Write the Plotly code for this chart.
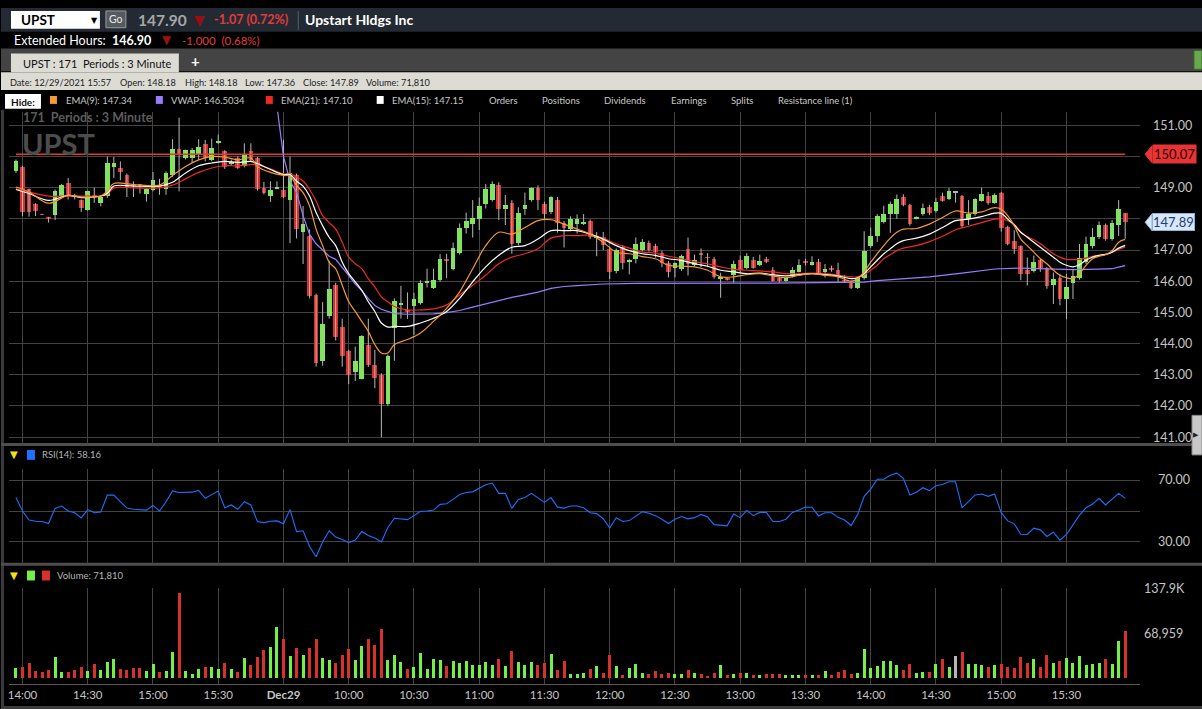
import plotly.graph_objects as go

# ---------------- data ----------------
# 3-minute candles, 12/28 13:57 .. 12/29 15:57 (171 periods)
OPEN = [149.55, 149.68, 148.95, 148.48, 148.14, 148.04, 148.13, 148.75, 149.17, 148.74,
        148.60, 148.28, 148.74, 148.51, 148.73, 149.68, 149.65, 149.40, 149.12, 149.08,
        148.81, 148.94, 149.10, 148.96, 149.42, 150.23, 149.97, 149.97, 150.07, 150.39,
        149.89, 150.46, 150.18, 149.77, 149.95, 149.70, 150.19, 149.95, 149.00, 148.75,
        148.97, 148.92, 148.60, 149.40, 147.58, 147.45, 145.57, 143.44, 144.88, 145.88,
        144.55, 143.76, 143.10, 142.87, 143.95, 143.33, 143.01, 142.08, 144.52, 145.25,
        145.05, 145.20, 145.30, 145.97, 145.80, 146.03, 146.70, 146.39, 146.90, 147.70,
        147.83, 147.99, 148.47, 148.62, 149.09, 148.33, 148.52, 147.23, 148.33, 148.60,
        148.99, 148.47, 148.21, 148.62, 147.88, 147.67, 147.83, 147.87, 147.92, 147.42,
        147.43, 147.04, 146.32, 147.10, 146.63, 146.73, 147.01, 147.24, 147.14, 146.92,
        146.60, 146.42, 146.39, 147.03, 146.52, 146.87, 146.77, 146.73, 146.10, 146.09,
        146.19, 146.70, 146.42, 146.70, 146.52, 146.73, 146.36, 146.10, 146.02, 146.17,
        146.31, 146.63, 146.54, 146.63, 146.29, 146.39, 146.38, 146.01, 145.95, 145.78,
        146.12, 147.15, 147.44, 147.91, 148.17, 148.17, 148.70, 148.44, 148.02, 148.17,
        148.38, 148.26, 148.73, 148.65, 148.84, 148.73, 148.00, 148.17, 148.59, 148.73,
        148.51, 148.84, 147.74, 147.29, 147.13, 146.36, 146.33, 146.68, 146.42, 145.89,
        146.12, 145.43, 145.96, 146.12, 146.63, 147.13, 147.42, 147.81, 147.35, 147.80,
        148.18]
HIGH = [149.90, 149.70, 148.97, 148.50, 148.16, 148.06, 148.94, 149.12, 149.31, 148.80,
        148.62, 148.90, 149.00, 148.72, 150.00, 149.98, 149.84, 149.45, 149.20, 149.12,
        148.98, 149.50, 149.28, 149.52, 150.55, 151.24, 150.22, 150.27, 150.55, 150.53,
        150.57, 150.70, 150.20, 149.90, 150.00, 150.42, 150.42, 149.98, 149.18, 149.20,
        149.20, 150.53, 150.00, 149.45, 148.41, 147.66, 145.60, 145.33, 146.66, 145.95,
        144.80, 143.80, 143.90, 144.27, 144.80, 143.80, 143.05, 143.65, 145.45, 145.85,
        145.64, 145.63, 146.03, 146.40, 146.40, 146.87, 146.88, 147.24, 147.85, 148.20,
        148.60, 148.68, 149.12, 149.20, 149.17, 148.76, 148.60, 148.37, 148.84, 149.01,
        149.07, 148.55, 148.72, 148.70, 147.93, 148.08, 148.14, 148.15, 147.98, 147.58,
        147.58, 147.11, 147.05, 147.15, 146.72, 147.40, 147.35, 147.30, 147.20, 146.98,
        146.65, 146.60, 146.85, 147.40, 146.85, 147.05, 146.90, 146.78, 146.27, 146.12,
        146.66, 146.82, 146.90, 146.78, 146.85, 146.78, 146.45, 146.15, 146.12, 146.45,
        146.70, 146.72, 146.80, 146.72, 146.55, 146.50, 146.59, 146.20, 146.00, 146.15,
        147.60, 147.72, 148.15, 148.42, 148.55, 148.78, 148.79, 148.48, 148.08, 148.49,
        148.45, 148.67, 148.84, 148.99, 148.87, 148.76, 148.60, 148.66, 149.00, 148.86,
        148.82, 148.86, 147.78, 147.63, 147.15, 146.76, 146.82, 146.72, 146.45, 146.28,
        146.23, 146.23, 146.38, 147.19, 147.43, 147.70, 147.91, 147.85, 147.96, 148.60,
        148.18]
LOW = [149.47, 148.09, 148.07, 148.09, 148.12, 147.88, 147.96, 148.72, 148.62, 148.62,
       148.22, 148.26, 148.51, 148.40, 148.67, 149.31, 149.24, 148.70, 148.70, 148.81,
       148.55, 148.88, 148.77, 148.77, 149.34, 148.88, 149.90, 149.79, 149.89, 149.84,
       149.85, 150.40, 149.60, 149.70, 149.60, 149.65, 149.85, 148.90, 148.78, 148.54,
       148.95, 148.67, 147.22, 147.37, 146.55, 145.45, 143.26, 143.29, 144.80, 144.10,
       143.26, 142.70, 142.80, 142.85, 143.25, 142.57, 141.00, 142.00, 143.45, 144.80,
       144.79, 144.28, 145.25, 145.80, 145.75, 145.98, 146.10, 146.35, 146.85, 147.53,
       147.40, 147.64, 148.33, 148.55, 147.96, 147.80, 146.88, 147.15, 148.13, 148.55,
       148.28, 148.00, 148.15, 147.56, 147.08, 147.60, 147.53, 147.80, 147.35, 146.80,
       147.00, 146.07, 146.25, 146.38, 146.22, 146.57, 146.95, 146.95, 146.76, 146.45,
       146.12, 146.12, 146.33, 146.18, 146.48, 146.45, 146.45, 146.08, 145.47, 146.02,
       145.95, 146.30, 146.38, 146.40, 146.48, 146.58, 145.98, 145.95, 145.98, 146.12,
       146.28, 146.50, 146.50, 146.20, 146.12, 146.30, 145.98, 145.95, 145.75, 145.75,
       146.05, 147.07, 147.26, 147.85, 147.55, 148.00, 148.40, 147.78, 147.98, 148.10,
       148.12, 148.20, 148.55, 148.60, 148.52, 147.72, 147.80, 148.10, 148.55, 148.45,
       148.48, 147.59, 147.15, 146.87, 146.03, 145.86, 146.28, 146.30, 145.76, 145.27,
       145.23, 144.78, 145.43, 146.05, 146.55, 147.05, 147.35, 147.30, 147.30, 147.45,
       147.36]
CLOSE = [149.87, 148.22, 148.22, 148.25, 148.13, 148.03, 148.89, 149.10, 148.73, 148.73,
         148.35, 148.89, 148.73, 148.70, 149.78, 149.81, 149.50, 149.04, 149.08, 149.06,
         148.96, 149.24, 149.05, 149.47, 150.23, 150.07, 150.21, 150.21, 150.30, 149.95,
         150.29, 150.48, 149.68, 149.84, 149.65, 150.08, 149.89, 148.96, 148.83, 148.94,
         148.99, 148.70, 149.49, 147.69, 147.85, 145.52, 143.39, 144.62, 145.77, 144.21,
         143.61, 143.01, 143.44, 144.24, 143.31, 142.90, 142.06, 143.60, 145.37, 145.28,
         145.03, 145.44, 145.95, 145.99, 146.06, 146.72, 146.68, 147.08, 147.70, 147.93,
         148.02, 148.41, 148.96, 149.12, 148.33, 148.46, 147.20, 148.20, 148.46, 148.99,
         148.62, 148.15, 148.69, 147.88, 147.72, 147.99, 148.00, 147.89, 147.42, 147.43,
         147.16, 146.30, 147.01, 146.59, 146.65, 147.20, 147.27, 147.01, 146.95, 146.58,
         146.31, 146.59, 146.82, 146.55, 146.70, 146.85, 146.75, 146.13, 146.12, 146.07,
         146.56, 146.36, 146.82, 146.44, 146.65, 146.62, 146.00, 146.00, 146.10, 146.38,
         146.52, 146.61, 146.63, 146.25, 146.40, 146.37, 146.17, 146.00, 145.78, 146.12,
         146.97, 147.44, 148.11, 148.17, 148.49, 148.63, 148.46, 147.83, 148.05, 148.35,
         148.19, 148.54, 148.57, 148.89, 148.84, 147.77, 148.17, 148.63, 148.80, 148.51,
         148.78, 147.72, 147.21, 147.05, 146.23, 146.23, 146.61, 146.42, 145.86, 146.07,
         145.43, 145.83, 146.17, 146.76, 147.19, 147.42, 147.81, 147.35, 147.86, 148.33,
         147.89]
VOLUME_K = [15.5, 17, 23, 11, 9.5, 12.5, 32, 9.5, 9.5, 12.5,
            17, 11, 21.5, 12.5, 24.5, 29, 14, 12.5, 15.5, 15.5,
            11, 21.5, 9.5, 11, 39.5, 131, 11, 6.5, 14, 17,
            17, 14, 23, 14, 9.5, 30.5, 20.5, 32, 42.5, 47,
            78.5, 60.5, 33.5, 45.5, 35, 45.5, 59, 30.5, 27.5, 23,
            35, 44, 27.5, 48.5, 59, 50, 75.5, 27.5, 35, 24.5,
            14, 17, 38, 14, 29, 27.5, 18.5, 26, 23, 26,
            20, 20, 24.5, 20, 29, 18.5, 41, 24.5, 20, 24.5,
            20, 23, 36.5, 12.5, 26, 6.5, 6.5, 8, 14, 18.5,
            8, 35, 18.5, 5, 15.5, 21.5, 8, 6.5, 11, 6.5,
            8, 6.5, 6.5, 12.5, 8, 6.5, 3.5, 8, 20, 5,
            6.5, 8, 8, 5, 5, 6.5, 6.5, 6.5, 5, 5,
            5, 5, 5, 5, 11, 5, 9.5, 12.5, 6.5, 8,
            44, 15.5, 18.5, 26, 26, 20, 12.5, 21.5, 8, 9.5,
            9.5, 21.5, 29, 17, 33.5, 39.5, 21.5, 21.5, 20, 17,
            20, 21.5, 17, 15.5, 32, 23, 29, 17, 35, 23,
            26, 30.5, 23, 33.5, 20, 21.5, 23, 29, 21.5, 56,
            71.81]
RSI = [58.7, 50.0, 44.2, 43.4, 43.2, 41.9, 51.7, 53.2, 50.0, 48.9,
       45.5, 50.9, 48.9, 49.4, 60.3, 60.3, 56.1, 51.9, 51.1, 50.9,
       50.6, 53.6, 50.0, 56.0, 63.0, 62.0, 62.0, 62.2, 63.3, 58.2,
       60.6, 63.0, 52.1, 53.9, 51.1, 56.0, 53.9, 43.2, 42.5, 43.4,
       43.6, 41.7, 50.9, 36.7, 37.2, 27.0, 20.4, 30.0, 37.2, 33.1,
       31.5, 29.5, 31.2, 36.7, 34.2, 32.5, 30.0, 39.3, 45.3, 44.9,
       44.4, 47.0, 49.8, 50.0, 50.6, 54.3, 54.7, 57.5, 60.7, 62.0,
       62.4, 64.7, 67.0, 68.1, 61.4, 61.4, 51.7, 57.5, 58.7, 61.4,
       58.2, 55.6, 58.7, 52.5, 51.9, 53.2, 53.2, 52.1, 48.9, 48.3,
       45.0, 39.0, 45.7, 43.2, 43.8, 47.0, 49.6, 48.5, 47.0, 44.7,
       41.9, 44.7, 46.4, 44.9, 45.7, 47.8, 46.1, 41.2, 41.0, 40.4,
       48.1, 45.7, 50.4, 47.0, 49.1, 49.1, 43.2, 43.2, 44.7, 49.1,
       50.6, 52.6, 52.4, 46.8, 48.9, 48.9, 45.9, 44.2, 40.6, 47.8,
       59.5, 64.2, 70.6, 70.6, 73.2, 74.5, 71.1, 60.4, 62.1, 65.1,
       63.2, 66.4, 67.2, 68.9, 68.9, 52.1, 56.1, 60.4, 61.0, 59.5,
       61.0, 48.9, 43.6, 41.7, 35.0, 34.8, 38.9, 37.8, 33.5, 36.3,
       31.1, 34.8, 41.0, 47.4, 52.1, 54.5, 58.2, 53.9, 57.7, 61.4,
       58.16]

# indicator lines
EMA_IDX = [0, 2, 5, 8, 10, 13, 14, 15, 18, 22,
           24, 26, 28, 30, 32, 34, 36, 37, 39, 41,
           42, 43, 44, 45, 46, 47, 48, 49, 50, 51,
           52, 53, 54, 55, 56, 57, 58,
           60, 62, 64, 66, 68, 70, 72, 74, 76, 78,
           80, 82, 84, 86, 88, 90, 92, 94, 96, 98,
           100, 102, 104, 106, 108, 110, 112, 114, 116, 118,
           120, 122, 124, 126, 128,
           129, 130, 131, 132, 133, 134, 135, 136,
           138, 140, 142, 144, 146, 148, 150,
           151, 152, 153, 154, 155, 156, 157, 158, 159, 160,
           161, 162, 163, 164, 165, 166, 167, 168, 169, 170]
EMA9 = [149.02, 148.86, 148.50, 148.75, 148.70, 148.73, 148.89, 149.13, 149.10, 149.08,
        149.39, 149.68, 149.89, 150.00, 149.98, 149.89, 149.95, 149.68, 149.49, 149.39,
        149.37, 149.07, 148.84, 148.41, 147.67, 147.14, 146.61, 146.40, 145.87, 145.34,
        145.03, 144.71, 144.39, 143.97, 143.70, 143.70, 143.97,
        144.13, 144.34, 144.71, 145.13, 145.66, 146.40, 147.14, 147.57, 147.51, 147.72,
        147.94, 147.97, 147.83, 147.67, 147.51, 147.25, 146.93, 146.88, 146.79, 146.72,
        146.51, 146.48, 146.46, 146.35, 146.14, 146.14, 146.21, 146.24, 146.17, 146.11,
        146.19, 146.24, 146.19, 146.14, 146.00,
        146.08, 146.30, 146.61, 146.88, 147.14, 147.38, 147.57, 147.67,
        147.69, 147.83, 148.04, 148.25, 148.18, 148.22, 148.36,
        148.31, 148.10, 147.78, 147.35, 147.14, 146.93, 146.72, 146.56, 146.35, 146.19,
        146.11, 146.08, 146.24, 146.51, 146.72, 146.80, 146.85, 146.98, 147.25, 147.34]
EMA15 = [148.94, 148.81, 148.59, 148.75, 148.68, 148.73, 148.81, 149.05, 149.05, 149.05,
         149.17, 149.47, 149.70, 149.79, 149.84, 149.81, 149.84, 149.77, 149.58, 149.42,
         149.42, 149.21, 149.05, 148.73, 148.20, 147.78, 147.41, 147.14, 146.61, 146.24,
         145.98, 145.71, 145.34, 145.03, 144.66, 144.53, 144.55,
         144.55, 144.66, 144.81, 145.03, 145.45, 145.98, 146.46, 146.83, 147.09, 147.14,
         147.35, 147.62, 147.62, 147.62, 147.51, 147.35, 147.14, 146.98, 146.88, 146.83,
         146.72, 146.67, 146.56, 146.48, 146.35, 146.30, 146.24, 146.26, 146.21, 146.17,
         146.21, 146.24, 146.21, 146.17, 146.08,
         146.11, 146.24, 146.46, 146.67, 146.88, 147.04, 147.20, 147.30,
         147.38, 147.51, 147.72, 147.94, 147.99, 148.07, 148.18,
         148.18, 147.99, 147.80, 147.57, 147.41, 147.25, 147.09, 146.93, 146.77, 146.61,
         146.51, 146.46, 146.53, 146.67, 146.77, 146.83, 146.86, 146.93, 147.06, 147.15]
EMA21 = [148.97, 148.86, 148.73, 148.73, 148.73, 148.73, 148.78, 148.99, 148.99, 148.99,
         149.08, 149.28, 149.49, 149.63, 149.70, 149.70, 149.74, 149.74, 149.60, 149.44,
         149.44, 149.34, 149.21, 148.94, 148.57, 148.10, 147.88, 147.67, 147.25, 146.77,
         146.56, 146.40, 146.08, 145.82, 145.50, 145.34, 145.19,
         145.08, 145.08, 145.11, 145.24, 145.56, 145.87, 146.19, 146.56, 146.77, 146.88,
         147.04, 147.38, 147.46, 147.46, 147.48, 147.38, 147.20, 147.06, 146.93, 146.90,
         146.80, 146.72, 146.63, 146.56, 146.46, 146.38, 146.35, 146.33, 146.30, 146.24,
         146.24, 146.26, 146.24, 146.19, 146.14,
         146.14, 146.21, 146.35, 146.51, 146.72, 146.85, 146.98, 147.06,
         147.14, 147.27, 147.44, 147.65, 147.76, 147.88, 147.99,
         147.99, 147.94, 147.83, 147.57, 147.43, 147.33, 147.20, 147.04, 146.88, 146.77,
         146.70, 146.69, 146.70, 146.74, 146.80, 146.83, 146.86, 146.93, 147.02, 147.10]
VWAP_IDX = [40, 41, 42, 43, 44, 45, 46, 47, 48, 49, 50, 51, 52, 53, 54, 55, 56, 57, 58,
            60, 62, 64, 66, 68, 70, 72, 74, 76, 78, 80, 82, 84, 86, 88, 90, 95, 100,
            110, 116, 125, 130, 132, 135, 140, 145, 150, 154, 158, 162, 166, 168, 169, 170]
VWAP = [151.60, 150.00, 149.20, 148.85, 148.10, 147.50, 147.20, 147.00, 146.80, 146.70,
        146.45, 146.18, 145.91, 145.70, 145.44, 145.22, 145.10, 145.03, 144.96,
        144.94, 144.94, 144.95, 144.99, 145.06, 145.17, 145.28, 145.37, 145.48, 145.56,
        145.65, 145.77, 145.83, 145.86, 145.89, 145.91, 145.93, 145.94,
        145.94, 145.94, 145.96, 145.97, 146.02, 146.07, 146.14, 146.26, 146.39, 146.42,
        146.40, 146.37, 146.39, 146.40, 146.45, 146.50]
RESISTANCE = 150.07
LAST_CLOSE = CLOSE[-1]

TICK_IDX = [1, 11, 21, 31, 41, 51, 61, 71, 81, 91, 101, 111, 121, 131, 141, 151, 161]
TICK_TEXT = ['14:00', '14:30', '15:00', '15:30', '<b>Dec29</b>', '10:00', '10:30', '11:00',
             '11:30', '12:00', '12:30', '13:00', '13:30', '14:00', '14:30', '15:00', '15:30']
PRICE_TICKS = [141, 142, 143, 144, 145, 146, 147, 148, 149, 150, 151]
HIDDEN_PRICE_TICKS = [148, 150]   # covered by the price tags

# ---------------- styling ----------------
W, H = 1202, 709
FONT = 'Lato'
GREEN = '#72f046'
RED = '#d8302c'
GRID = '#434343'
AXTXT = '#c4c4c4'

def px(x):
    return x / W

def py(y):
    return 1 - y / H

IDX = list(range(len(CLOSE)))
candle_col = [GREEN if c > o else (RED if c < o else '#b4b4b4') for o, c in zip(OPEN, CLOSE)]
body_base = [min(o, c) for o, c in zip(OPEN, CLOSE)]
body_h = [max(abs(c - o), 0.03) for o, c in zip(OPEN, CLOSE)]
wick_x, wick_y = [], []
for i, lo, hi in zip(IDX, LOW, HIGH):
    wick_x += [i, i, None]
    wick_y += [lo, hi, None]

fig = go.Figure()

# price panel
fig.add_trace(go.Scatter(x=wick_x, y=wick_y, mode='lines', line=dict(color='#b8b8b8', width=1),
                         xaxis='x', yaxis='y', hoverinfo='skip'))
fig.add_trace(go.Bar(x=IDX, y=body_h, base=body_base, width=0.72, marker=dict(color=candle_col, line=dict(width=0)),
                     xaxis='x', yaxis='y'))
fig.add_trace(go.Scatter(x=[IDX[0], IDX[-1]], y=[RESISTANCE, RESISTANCE], mode='lines',
                         line=dict(color='#e03a2c', width=1.5), xaxis='x', yaxis='y'))
fig.add_trace(go.Scatter(x=VWAP_IDX, y=VWAP, mode='lines', line=dict(color='#9a7cff', width=1.2),
                         xaxis='x', yaxis='y'))
fig.add_trace(go.Scatter(x=EMA_IDX, y=EMA21, mode='lines', line=dict(color='#ee2a22', width=1.2, shape='spline'),
                         xaxis='x', yaxis='y'))
fig.add_trace(go.Scatter(x=EMA_IDX, y=EMA15, mode='lines', line=dict(color='#ffffff', width=1.2, shape='spline'),
                         xaxis='x', yaxis='y'))
fig.add_trace(go.Scatter(x=EMA_IDX, y=EMA9, mode='lines', line=dict(color='#f49a30', width=1.2, shape='spline'),
                         xaxis='x', yaxis='y'))

# RSI panel
fig.add_trace(go.Scatter(x=IDX, y=RSI, mode='lines', line=dict(color='#1a72ff', width=1.1),
                         xaxis='x2', yaxis='y2'))

# volume panel
fig.add_trace(go.Bar(x=IDX, y=[v * 1000 for v in VOLUME_K], width=0.46,
                     marker=dict(color=candle_col, line=dict(width=0)), xaxis='x3', yaxis='y3'))

xdom = [px(8), px(1140)]
xrange = [-1.07, 172.28]
common_x = dict(domain=xdom, range=xrange, tickvals=TICK_IDX, showgrid=True, gridcolor=GRID,
                gridwidth=1, zeroline=False, ticks='', fixedrange=True)

shapes = []

def rect(x0, y0, x1, y1, fill, line=None, lw=0):
    shapes.append(dict(type='rect', xref='paper', yref='paper', x0=px(x0), x1=px(x1), y0=py(y1), y1=py(y0),
                       fillcolor=fill, line=dict(color=line or fill, width=lw), layer='below'))

# header bands
rect(0, 0, W, 24, '#232a33')
rect(0, 41, W, 64, '#444444')
rect(10, 46, 178, 65, '#dcdcd5')
rect(0, 65, W, 83, '#dcdcd5')
rect(10, 3, 99, 21, '#ffffff')
rect(105, 3, 125, 20, '#555a60', '#9a9a9a', 1)
rect(297, 3, 298, 22, '#5a5f66')
rect(1194, 43, W, 62, '#6aa84f', '#3a6a2a', 1)
rect(4, 87, 40, 102, '#ffffff')
rect(49, 89, 56, 97, '#f49a30')
rect(155, 89, 162, 97, '#9a7cff')
rect(265, 89, 272, 97, '#ee2a22')
rect(376, 89, 383, 97, '#ffffff')
# panel frames
rect(0, 103, 3, H, '#3a3a3a')
rect(0, 440, W, 443, '#4e4e4e')
rect(0, 561, W, 564, '#4e4e4e')
rect(0, 706, W, H, '#3c3c3c')
rect(26, 447, 34, 457, '#1a72ff')
rect(26, 569, 34, 579, GREEN)
rect(41, 569, 49, 579, RED)
rect(1192, 412, W, 452, '#c8c8c8', '#8a8a8a', 1)

# price tag arrows on the right axis
def tag(value, fill, border):
    shapes.append(dict(type='path', xref='paper', yref='y',
                       path=f'M {px(1145)},{value} L {px(1152)},{value + 0.27} L {px(1152)},{value - 0.27} Z',
                       fillcolor=fill, line=dict(color=border, width=1), layer='above'))

tag(RESISTANCE, '#e83434', '#e83434')
tag(LAST_CLOSE, '#d6e8fa', '#8fb0d8')

annotations = []

def label(x, y, text, size=11, color='#c8c8c8', bold=False, anchor='left', family=FONT, **kw):
    annotations.append(dict(xref='paper', yref='paper', x=px(x), y=py(y), text=f'<b>{text}</b>' if bold else text,
                            showarrow=False, xanchor=anchor, yanchor='middle',
                            font=dict(family=family, size=size, color=color), **kw))

label(18, 12.5, 'UPST', 13.5, '#000000', True)
label(94, 12.5, '▼', 8, '#000000', anchor='center', family='DejaVu Sans')
label(115, 11.5, 'Go', 10.5, '#e8e8e8', anchor='center')
label(135, 12, '147.90', 15.5, '#a6a6a6', True)
label(199, 12, '▼', 14, '#9a1010', anchor='center', family='DejaVu Sans')
label(211, 12, '-1.07 (0.72%)', 12.5, '#e23c3c', True)
label(302, 12, 'Upstart Hldgs Inc', 14, '#ffffff', True)

label(11, 33, 'Extended Hours:', 12.5, '#ffffff')
label(109, 33, '146.90', 12.5, '#ffffff', True)
label(166, 32.5, '▼', 12, '#9a1010', anchor='center', family='DejaVu Sans')
label(179, 33, '-1.000  (0.68%)', 11.5, '#e23c3c')

label(20, 56, 'UPST : 171  Periods : 3 Minute', 11, '#111111')
label(195, 54, '+', 15, '#ffffff', True, anchor='center')

for xx, t in [(7, 'Date: 12/29/2021 15:57'), (117, 'Open: 148.18'), (182, 'High: 148.18'),
              (242, 'Low: 147.36'), (300, 'Close: 147.89'), (363, 'Volume: 71,810')]:
    label(xx, 75, t, 9.2, '#222222')

label(22, 95, 'Hide:', 10, '#111111', True, anchor='center')
for xx, t in [(63, 'EMA(9): 147.34'), (168, 'VWAP: 146.5034'), (278, 'EMA(21): 147.10'),
              (389, 'EMA(15): 147.15'), (486, 'Orders'), (539, 'Positions'), (602, 'Dividends'),
              (669, 'Earnings'), (729, 'Splits'), (776, 'Resistance line (1)')]:
    label(xx, 94, t, 9.5, '#c8c8c8')

# watermark
label(20, 111, '171  Periods : 3 Minute', 12.5, '#5c5c5c', True)
label(19, 137, 'UPST', 29, '#4c4c4c', True)

# sub panel headers
label(13, 452, '▼', 10, '#f2e21a', anchor='center', family='DejaVu Sans')
label(39, 452, 'RSI(14): 58.16', 9.5, '#b4b4b4')
label(13, 574, '▼', 10, '#f2e21a', anchor='center', family='DejaVu Sans')
label(54, 574, 'Volume: 71,810', 9.5, '#b4b4b4')
label(1196, 432, '▶', 7, '#222222', anchor='center', family='DejaVu Sans')

# price tags text
annotations.append(dict(xref='paper', yref='y', x=px(1152), y=RESISTANCE, text='150.07', showarrow=False,
                        xanchor='left', yanchor='middle', bgcolor='#e83434', borderpad=1,
                        font=dict(family=FONT, size=13, color='#2a0000')))
annotations.append(dict(xref='paper', yref='y', x=px(1152), y=LAST_CLOSE, text=f'{LAST_CLOSE:.2f}', showarrow=False,
                        xanchor='left', yanchor='middle', bgcolor='#d6e8fa', bordercolor='#8fb0d8', borderwidth=1,
                        borderpad=0, font=dict(family=FONT, size=13, color='#1c3f73')))

fig.update_layout(
    width=W, height=H,
    margin=dict(l=0, r=0, t=0, b=0),
    paper_bgcolor='#000000', plot_bgcolor='#000000',
    showlegend=False, hovermode=False, bargap=0,
    font=dict(family=FONT, color=AXTXT),
    xaxis=dict(common_x, anchor='y', showticklabels=False),
    yaxis=dict(domain=[py(441), py(105)], range=[140.78, 151.43], side='right', anchor='x',
               tickvals=PRICE_TICKS,
               ticktext=['' if v in HIDDEN_PRICE_TICKS else f'{v:.2f}' for v in PRICE_TICKS],
               gridcolor=GRID, zeroline=False, ticks='', ticklabelstandoff=12,
               tickfont=dict(size=12.5, color=AXTXT), fixedrange=True),
    xaxis2=dict(common_x, anchor='y2', showticklabels=False),
    yaxis2=dict(domain=[py(562), py(466)], range=[15.92, 77.36], side='right', anchor='x2',
                tickvals=[30, 50, 70], ticktext=['30.00', '', '70.00'], gridcolor=GRID, zeroline=False,
                ticks='', ticklabelstandoff=17, tickfont=dict(size=12.5, color=AXTXT), fixedrange=True),
    xaxis3=dict(common_x, anchor='y3', showticklabels=True, ticktext=TICK_TEXT,
                tickfont=dict(size=11.5, color=AXTXT), showline=True, linecolor='#5a5a5a', linewidth=1),
    yaxis3=dict(domain=[py(684), py(587)], range=[-9092, 137900], side='right', anchor='x3',
                tickvals=[68959, 137900], ticktext=['68,959', '137.9K'], showgrid=False, zeroline=False,
                ticks='', ticklabelstandoff=3, tickfont=dict(size=12.5, color=AXTXT), fixedrange=True),
    shapes=shapes,
    annotations=annotations,
)

fig.write_html("out.html", config={'displayModeBar': False},
               post_script="document.body.style.margin='0';document.body.style.overflow='hidden';")
